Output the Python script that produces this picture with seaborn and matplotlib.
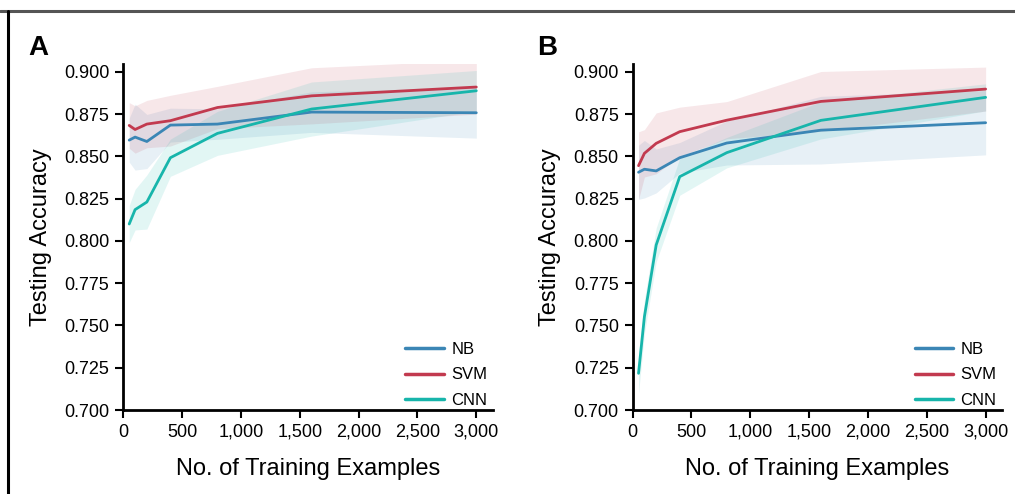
import numpy as np
import pandas as pd
import matplotlib
matplotlib.use("Agg")
import matplotlib.pyplot as plt
import matplotlib.ticker as mticker
import seaborn as sns

# === Data ===
N_TRAIN = [50, 100, 200, 400, 800, 1600, 3000]

# panel A
A_NB = [0.8596, 0.8614, 0.8588, 0.8685, 0.8691, 0.8762, 0.8758]
A_NB_SD = [0.013, 0.0195, 0.016, 0.010, 0.009, 0.012, 0.015]
A_SVM = [0.8683, 0.8659, 0.8691, 0.8711, 0.8789, 0.8858, 0.8910]
A_SVM_SD = [0.0135, 0.014, 0.014, 0.015, 0.0125, 0.0166, 0.016]
A_CNN = [0.8100, 0.8185, 0.8230, 0.8492, 0.8636, 0.8780, 0.8888]
A_CNN_SD = [0.011, 0.012, 0.016, 0.011, 0.013, 0.016, 0.012]

# panel B
B_NB = [0.8406, 0.8424, 0.8414, 0.8492, 0.8579, 0.8655, 0.8699]
B_NB_SD = [0.016, 0.017, 0.013, 0.009, 0.013, 0.020, 0.019]
B_SVM = [0.8445, 0.8518, 0.8577, 0.8646, 0.8714, 0.8825, 0.8898]
B_SVM_SD = [0.020, 0.014, 0.018, 0.0145, 0.011, 0.0177, 0.013]
B_CNN = [0.7217, 0.7552, 0.7976, 0.8380, 0.8522, 0.8713, 0.8849]
B_CNN_SD = [0.012, 0.010, 0.010, 0.011, 0.009, 0.011, 0.008]

MODELS = ["NB", "SVM", "CNN"]
COLORS = {"NB": "#3b86b5", "SVM": "#c23a4f", "CNN": "#17b5ab"}

panels = {
    "A": {"NB": (A_NB, A_NB_SD), "SVM": (A_SVM, A_SVM_SD), "CNN": (A_CNN, A_CNN_SD)},
    "B": {"NB": (B_NB, B_NB_SD), "SVM": (B_SVM, B_SVM_SD), "CNN": (B_CNN, B_CNN_SD)},
}

sns.set_style("ticks")
plt.rcParams["font.family"] = ["Liberation Sans", "DejaVu Sans"]
plt.rcParams["text.color"] = "black"
plt.rcParams["axes.labelcolor"] = "black"

fig = plt.figure(figsize=(10.15, 4.94), dpi=100)

# frame around the figure (top + left only visible)
fig.add_artist(plt.Line2D([0, 1], [1 - 11 / 494] * 2, color="#555555", lw=2.2))
fig.add_artist(plt.Line2D([8 / 1015] * 2, [0, 1 - 11 / 494], color="black", lw=2.2))

axes_pos = {"A": [0.1215, 0.170, 0.364, 0.700], "B": [0.6233, 0.170, 0.364, 0.700]}
letter_x = {"A": 28 / 1015, "B": 537 / 1015}

for name, series in panels.items():
    ax = fig.add_axes(axes_pos[name])
    rows = []
    for m in MODELS:
        mean, sd = series[m]
        for x, v in zip(N_TRAIN, mean):
            rows.append({"n": x, "acc": v, "model": m})
        lo = np.array(mean) - np.array(sd)
        hi = np.array(mean) + np.array(sd)
        ax.fill_between(N_TRAIN, lo, hi, color=COLORS[m], alpha=0.12, lw=0)
    df = pd.DataFrame(rows)
    sns.lineplot(data=df, x="n", y="acc", hue="model", palette=COLORS,
                 hue_order=MODELS, lw=2.0, ax=ax)

    ax.set_xlim(0, 3140)
    ax.set_ylim(0.700, 0.9045)
    ax.set_xticks([0, 500, 1000, 1500, 2000, 2500, 3000])
    ax.set_yticks(np.arange(0.700, 0.901, 0.025))
    ax.xaxis.set_major_formatter(mticker.FuncFormatter(lambda v, p: f"{int(v):,}"))
    ax.yaxis.set_major_formatter(mticker.FormatStrFormatter("%.3f"))
    ax.tick_params(labelsize=13, length=6, width=1.5, colors="black", pad=4)
    for s in ["left", "bottom"]:
        ax.spines[s].set_linewidth(2)
        ax.spines[s].set_color("black")
    sns.despine(ax=ax)

    ax.set_xlabel("No. of Training Examples", fontsize=17, labelpad=12)
    ax.set_ylabel("Testing Accuracy", fontsize=17, labelpad=9)

    leg = ax.legend(loc="lower right", frameon=False, fontsize=12,
                    handlelength=2.3, labelspacing=0.65, handletextpad=0.45,
                    borderpad=0.0, borderaxespad=0.0,
                    bbox_to_anchor=(0.985, 0.005))
    for line in leg.get_lines():
        line.set_linewidth(2.5)

    fig.text(letter_x[name], 1 - 55 / 494, name, fontsize=20, fontweight="bold",
             ha="left", va="baseline")

fig.savefig("out.png", dpi=100)
